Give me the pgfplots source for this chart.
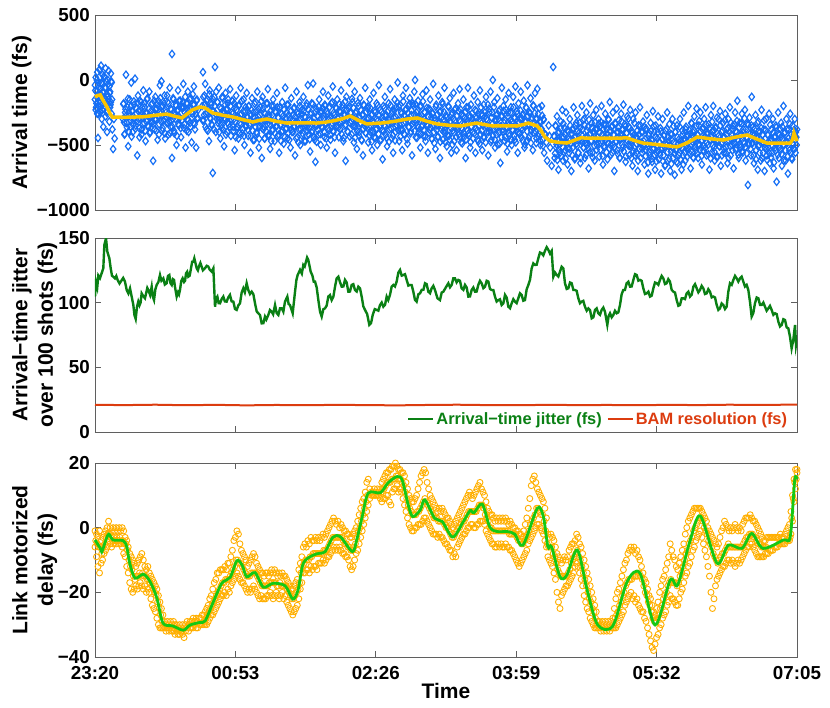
\documentclass[border=0pt]{standalone}
\usepackage{fontspec}
\setmainfont{Liberation Sans}
\usepackage{pgfplots}
\pgfplotsset{compat=1.18}
\definecolor{ablue}{RGB}{20,110,245}
\definecolor{ayellow}{RGB}{250,195,0}
\definecolor{aorange}{RGB}{255,175,0}
\definecolor{lgreen}{RGB}{20,200,20}
\definecolor{dgreen}{RGB}{10,128,20}
\definecolor{bred}{RGB}{220,60,15}
\definecolor{axgray}{RGB}{95,95,95}
\pgfplotsset{
  panel/.style={
    scale only axis, width=702pt, height=194pt,
    xmin=0, xmax=930, xtick={0,186,372,558,744,930},
    tick align=inside, major tick length=6pt,
    axis line style={draw=axgray, line width=0.8pt},
    every tick/.style={draw=axgray, line width=0.8pt},
    clip marker paths=true,
    /pgf/number format/assume math mode=true,
    ticklabel style={font=\fontsize{18.8}{20}\selectfont\bfseries, inner sep=0pt},
    xticklabel style={yshift=-9pt},
    yticklabel style={xshift=-5pt},
    ylabel style={font=\fontsize{21}{25.5}\selectfont\bfseries, inner sep=0pt, align=center, anchor=south},
    xlabel style={font=\fontsize{21}{25}\selectfont\bfseries, inner sep=0pt, anchor=north},
  },
  bluediam/.style={only marks, mark=diamond, mark size=3.7pt, mark options={draw=ablue, fill=none, line width=1.2pt}},
  orcirc/.style={only marks, mark=o, mark size=3pt, mark options={draw=aorange, line width=0.9pt}},
}
\begin{document}
\begin{tikzpicture}
\path[use as bounding box] (0pt,0pt) rectangle (830pt,-708pt);
% ---------------- Panel 1 ----------------
\begin{axis}[panel, at={(95pt,-210pt)}, anchor=south west, height=195pt,
  ymin=-1000, ymax=500, ytick={-1000,-500,0,500}, yticklabels={−1000,−500,0,500},
  xticklabels={}, clip=false,
  ylabel={Arrival time (fs)}, ylabel style={at={(axis description cs:-0.0902,0.5)}}]
\addplot[bluediam] coordinates {
(0,-150)(0,-40)(1,-230)(1,20)(2,-90)(2,-180)(3,60)(3,-260)(4,-446)(4,-120)(5,-20)(5,-200)(6,-160)(6,80)(7,-70)(7,-250)(8,110)(8,-130)(9,-300)(9,-30)
(10,-190)(10,40)(11,-100)(11,-360)(12,30)(12,-220)(13,-140)(13,-60)(14,90)(14,-280)(15,-180)(15,-10)(16,-400)(16,-110)(17,0)(17,-240)(18,-150)(18,70)(19,-50)(19,-320)
(20,-210)(20,-90)(21,50)(21,-170)(22,-260)(22,-20)(23,-380)(24,-531)(25,-300)(26,-450)
(37,-300)(38,-180)(39,-420)(40,-250)(41,40)(42,-330)(43,-210)(44,-510)(45,-280)(46,-150)(47,-360)(48,-20)(49,-240)(50,-400)(51,-310)(52,-190)(53,10)(54,-350)(55,-260)(56,-580)(57,-120)(58,-300)(59,-440)
(60,-230)(61,-170)(62,-380)(63,-290)(64,-80)(65,-330)(66,-210)(67,-470)(68,-260)(69,-150)(70,-350)(71,-280)(72,-90)(73,-400)(74,-240)(75,-320)(76,-180)(77,-622)(78,-270)(79,-380)
(80,-130)(81,-300)(82,-220)(83,-460)(84,-160)(85,-340)(86,-40)(87,-260)(88,-10)(89,-390)(90,-200)(91,-310)(92,-120)(93,-450)(94,-250)(95,-330)(96,-170)(97,-420)(98,-280)(99,-60)
(100,-360)(101,-230)(102,200)(102,-600)(103,-300)(104,-150)(105,-410)(106,-270)(107,-190)(108,-500)(109,-240)(110,-80)(111,-350)(112,-290)(113,-160)(114,-440)(115,-310)(116,-210)(117,-30)(118,-370)(119,-250)
(120,-520)(121,-180)(122,-300)(123,-90)(124,-400)(125,-220)(126,-330)(127,-140)(128,-480)(129,-260)(130,-190)(131,-50)(132,-340)(133,-230)(134,-520)(135,-150)(136,-290)
(142,-200)(143,60)(144,-310)(145,-120)(146,-30)(147,-260)(148,-380)(149,-150)(150,-230)(151,-470)(152,-80)(153,-300)(154,-190)(155,-350)(156,-715)(157,-240)(158,-130)(159,100)
(160,-400)(161,-270)(162,-170)(163,-330)(164,-60)(165,-290)(166,-450)(167,-220)(168,-370)(169,-140)(170,-260)(171,-510)(172,-310)(173,-100)(174,-230)(175,-400)(176,-180)(177,-340)(178,-270)(179,-70)
(180,-430)(181,-250)(182,-160)(183,-360)(184,-300)(185,-540)(186,-210)(187,-120)(188,-380)(189,-280)(190,-450)(191,-190)(192,-330)(193,-60)(194,-260)(195,-410)(196,-310)(197,-150)(198,-500)(199,-240)
(200,-360)(201,-100)(202,-290)(203,-430)(204,-200)(205,-350)(206,-560)(207,-270)(208,-140)(209,-390)(210,-250)(211,-460)(212,-320)(213,-170)(214,-400)(215,-90)(216,-280)(217,-520)(218,-360)(219,-210)
(220,-310)(221,-600)(222,-130)(223,-380)(224,-250)(225,-450)(226,-300)(227,-180)(228,-340)(229,-70)(230,-420)(231,-270)(232,-530)(233,-310)(234,-200)(235,-390)(236,-150)(237,-330)(238,-470)(239,-240)
(240,-360)(241,-100)(242,-430)(243,-290)(244,-560)(245,-210)(246,-340)(247,-400)(248,-170)(249,-280)(250,-490)(251,-330)(252,-60)(253,-380)(254,-250)(255,-450)(256,-190)(257,-350)(258,-300)(259,-520)
(260,-140)(261,-400)(262,-270)(263,-360)(264,-210)(265,-580)(266,-320)(267,-90)(268,-440)(269,-260)(270,-380)(271,-170)(272,-500)(273,-300)(274,-230)(275,-410)(276,-130)(277,-350)(278,-280)(279,-470)
(280,-200)(281,-360)(282,-40)(283,-420)(284,-310)(285,-550)(286,-250)(287,-180)(288,-390)(289,-27)(290,-330)(291,-460)(292,-630)(293,-220)(294,-350)(295,-280)(296,-420)(297,-150)(298,-310)(299,-500)
(300,-240)(301,-370)(302,-90)(303,-300)(304,-440)(305,-200)(306,-340)(307,-520)(308,-260)(309,-120)(310,-390)(311,-290)(312,-460)(313,-180)(314,-330)(315,-50)(316,-400)(317,-270)(318,-560)(319,-210)
(320,-350)(321,-150)(322,-300)(323,-440)(324,-240)(325,-380)(326,-80)(327,-320)(328,-190)(329,-470)(330,-260)(331,-350)(332,-622)(333,-130)(334,-290)(335,-400)(336,-220)(337,-20)(338,-330)(339,-250)
(340,-420)(341,-170)(342,-300)(343,-480)(344,-90)(345,-360)(346,-240)(347,-530)(348,-310)(349,-200)(350,-400)(351,-140)(352,-330)(353,-460)(354,-270)(355,-580)(356,-190)(357,-350)(358,-60)(359,-410)
(360,-300)(361,-220)(362,-480)(363,-360)(364,-150)(365,-400)(366,-270)(367,-540)(368,-320)(369,-100)(370,-440)(371,-250)(372,-380)(373,-180)(374,-500)(375,-310)(376,-40)(377,-360)(378,-230)(379,-460)
(380,-290)(381,-610)(382,-200)(383,-350)(384,-130)(385,-420)(386,-270)(387,-510)(388,-300)(389,-180)(390,-380)(391,-70)(392,-330)(393,-450)(394,-240)(395,-560)(396,-290)(397,-150)(398,-400)(399,-210)
(400,-350)(401,-20)(402,-310)(403,-470)(404,-190)(405,-380)(406,-260)(407,-540)(408,-120)(409,-330)(410,-420)(411,-230)(412,-60)(413,-300)(414,-490)(415,-200)(416,-360)(417,-140)(418,-410)(419,-270)
(420,-580)(421,-180)(422,-320)(423,-90)(424,0)(425,-440)(426,-250)(427,-350)(428,-160)(429,-400)(430,-280)(431,-520)(432,-200)(433,-360)(434,-110)(435,-430)(436,-300)(437,-250)(438,-470)(439,-80)
(440,-340)(441,-560)(442,-220)(443,-380)(444,-150)(445,-310)(446,-450)(447,-260)(448,-30)(449,-400)(450,-290)(451,-530)(452,-190)(453,-350)(454,-440)(455,-120)(456,-320)(457,-600)(458,-240)(459,-380)
(460,-170)(461,-460)(462,-300)(463,-60)(464,-410)(465,-270)(466,-510)(467,-350)(468,-200)(469,-430)(470,-140)(471,-330)(472,-560)(473,-250)(474,-390)(475,-100)(476,-470)(477,-310)(478,-220)(479,-540)
(480,-360)(481,-180)(482,-420)(483,-70)(484,-320)(485,-480)(486,-260)(487,-380)(488,-150)(489,-440)(490,-290)(491,-600)(492,-210)(493,-340)(494,-60)(495,-410)(496,-270)(497,-520)(498,-190)(499,-360)
(500,-300)(501,-450)(502,-120)(503,-330)(504,-560)(505,-240)(506,-390)(507,-170)(508,-470)(509,-300)(510,-80)(511,-420)(512,-260)(513,-540)(514,-350)(515,-190)(516,-440)(517,-280)(518,-130)(519,-400)
(520,-310)(521,-580)(522,-220)(523,-360)(524,-90)(525,-460)(526,-250)(527,0)(528,-380)(529,-170)(530,-520)(531,-300)(532,-420)(533,-140)(534,-350)(535,-240)(536,-490)(537,-638)(538,-280)(539,-60)
(540,-400)(541,-200)(542,-330)(543,-470)(544,-150)(545,-360)(546,-550)(547,-250)(548,-100)(549,-430)(550,-310)(551,-210)(552,-500)(553,-380)(554,-130)(555,-290)(556,-460)(557,-50)(558,-350)(559,-240)
(560,-560)(561,-180)(562,-410)(563,-300)(564,-90)(565,-440)(566,-270)(567,-380)(568,-160)(569,-520)(570,-320)(571,-210)(572,-470)(573,-40)(574,-340)(575,-250)(576,-430)(577,-140)(578,-390)(579,-290)
(580,-540)(581,-200)(582,-360)(583,-100)(584,-300)(585,-450)(586,-68)(587,-260)(588,-410)(589,-320)(590,-500)(591,-380)(592,-200)(593,-460)(594,-300)(595,-560)(597,-420)(599,-620)(601,-350)(603,-520)(605,-660)(607,100)
(608,-430)(609,-600)(610,-350)(611,-520)(612,-280)(613,-470)(614,-690)(615,-400)(616,-560)(617,-320)(618,-480)(619,-230)(620,-620)(621,-440)(622,-370)(623,-540)(624,-250)(625,-480)(626,-650)(627,-400)
(628,-560)(629,-300)(630,-460)(631,-700)(632,-380)(633,-520)(634,-210)(635,-440)(636,-600)(637,-350)(638,-490)(639,-270)(640,-560)(641,-410)(642,-330)(643,-640)(644,-460)(645,-200)(646,-380)(647,-520)
(648,-300)(649,-600)(650,-440)(651,-250)(652,-500)(653,-360)(654,-680)(655,-420)(656,-180)(657,-470)(658,-330)(659,-560)(660,-270)(661,-410)(662,-620)(663,-380)(664,-230)(665,-500)(666,-440)(667,-300)
(668,-590)(669,-360)(670,-480)(671,-200)(672,-420)(673,-650)(674,-340)(675,-520)(676,-260)(677,-460)(678,-380)(679,-610)(680,-300)(681,-440)(682,-170)(683,-500)(684,-360)(685,-560)(686,-250)(687,-420)
(688,-700)(689,-330)(690,-470)(691,-220)(692,-540)(693,-400)(694,-310)(695,-600)(696,-450)(697,-260)(698,-380)(699,-520)(700,-190)(701,-440)(702,-340)(703,-630)(704,-410)(705,-280)(706,-500)(707,-360)
(708,-580)(709,-230)(710,-470)(711,-390)(712,-660)(713,-300)(714,-520)(715,-420)(716,-250)(717,-560)(718,-440)(719,-700)(720,-350)(721,-480)(722,-210)(723,-600)(724,-400)(725,-530)(726,-320)(727,-470)
(728,-650)(729,-380)(730,-540)(731,-270)(732,-490)(733,-720)(734,-410)(735,-580)(736,-330)(737,-460)(738,-630)(739,-240)(740,-520)(741,-400)(742,-690)(743,-350)(744,-560)(745,-450)(746,-280)(747,-610)
(748,-480)(749,-370)(750,-720)(751,-520)(752,-300)(753,-580)(754,-430)(755,-660)(756,-390)(757,-500)(758,-250)(759,-620)(760,-470)(761,-340)(762,-700)(763,-550)(764,-420)(765,-300)(766,-600)(767,-480)
(768,-730)(769,-400)(770,-530)(771,-350)(772,-640)(773,-460)(774,-560)(775,-300)(776,-500)(777,-690)(778,-390)(779,-580)(780,-250)(781,-470)(782,-620)(783,-360)(784,-530)(785,-420)(786,-200)(787,-560)
(788,-450)(789,-680)(790,-330)(791,-500)(792,-400)(793,-600)(794,-280)(795,-460)(796,-540)(797,-220)(798,-420)(799,-600)(800,-350)(801,-500)(802,-250)(803,-470)(804,-650)(805,-380)(806,-540)(807,-300)
(808,-440)(809,-210)(810,-580)(811,-420)(812,-500)(813,-340)(814,-690)(815,-460)(816,-270)(817,-560)(818,-400)(819,-200)(820,-520)(821,-620)(822,-370)(823,-470)(824,-290)(825,-590)(826,-430)(827,-510)
(828,-240)(829,-660)(830,-400)(831,-480)(832,-330)(833,-560)(834,-440)(835,-260)(836,-520)(837,-380)(838,-640)(839,-300)(840,-470)(841,-210)(842,-580)(843,-420)(844,-500)(845,-350)(846,-680)(847,-450)
(848,-250)(849,-540)(850,-400)(851,-160)(852,-470)(853,-600)(854,-330)(855,-520)(856,-420)(857,-260)(858,-560)(859,-380)(860,-490)(861,-230)(862,-620)(863,-440)(864,-340)(865,-808)(866,-500)(867,-290)
(868,-410)(869,-580)(870,-130)(871,-480)(872,-360)(873,-640)(874,-420)(875,-270)(876,-540)(877,-450)(878,-690)(879,-320)(880,-500)(881,-400)(882,-620)(883,-230)(884,-480)(885,-560)(886,-380)(887,-700)
(888,-450)(889,-300)(890,-580)(891,-420)(892,-520)(893,-260)(894,-640)(895,-470)(896,-380)(897,-560)(898,-300)(899,-680)(900,-440)(901,-520)(902,-350)(903,-783)(904,-480)(905,-250)(906,-600)(907,-420)
(908,-540)(909,-330)(910,-660)(911,-460)(912,-200)(913,-500)(914,-400)(915,-620)(916,-300)(917,-480)(918,-720)(919,-380)(920,-540)(921,-260)(922,-460)(923,-600)(924,-350)(925,-500)(926,-420)(927,-300)
(928,-560)(929,-440)(930,-380)
};
\addplot[bluediam] coordinates {
(0.5,-80)(1.5,-210)(2.5,0)(3.5,-140)(4.5,-260)(5.5,-50)(6.5,-180)(7.5,-110)(8.5,-20)(9.5,-230)(10.5,-90)(11.5,-160)(12.5,20)(13.5,-200)(14.5,-60)(15.5,-250)(16.5,-130)(17.5,-30)(18.5,-170)(19.5,-100)(20.5,-190)(21.5,-10)(22.5,-150)
(37.5,-185)(38.5,-325)(39.5,-415)(40.5,-225)(41.5,-275)(42.5,-365)(43.5,-145)(44.5,-395)(45.5,-255)(46.5,-305)(47.5,-205)(48.5,-435)(49.5,-235)(50.5,-345)(51.5,-165)(52.5,-295)(53.5,-375)(54.5,-215)(55.5,-315)(56.5,-175)
(57.5,-240)(58.5,-370)(59.5,-160)(60.5,-300)(61.5,-420)(62.5,-210)(63.5,-340)(64.5,-270)(65.5,-180)(66.5,-390)(67.5,-250)(68.5,-320)(69.5,-140)(70.5,-360)(71.5,-220)(72.5,-410)(73.5,-290)(74.5,-190)(75.5,-330)(76.5,-260)
(77.5,-340)(78.5,-160)(79.5,-300)(80.5,-220)(81.5,-390)(82.5,-190)(83.5,-280)(84.5,-420)(85.5,-250)(86.5,-140)(87.5,-320)(88.5,-200)(89.5,-370)(90.5,-270)(91.5,-180)(92.5,-410)(93.5,-230)(94.5,-290)(95.5,-120)(96.5,-330)
(97.5,-180)(98.5,-320)(99.5,-410)(100.5,-220)(101.5,-270)(102.5,-360)(103.5,-140)(104.5,-390)(105.5,-250)(106.5,-300)(107.5,-200)(108.5,-430)(109.5,-230)(110.5,-340)(111.5,-160)(112.5,-290)(113.5,-370)(114.5,-210)(115.5,-310)(116.5,-170)
(117.5,-210)(118.5,-340)(119.5,-130)(120.5,-270)(121.5,-390)(122.5,-180)(123.5,-310)(124.5,-240)(125.5,-150)(126.5,-360)(127.5,-220)(128.5,-290)(129.5,-110)(130.5,-330)(131.5,-190)(132.5,-380)(133.5,-260)(134.5,-160)(135.5,-300)(136.5,-230)
(142.5,-310)(143.5,-130)(144.5,-270)(145.5,-190)(146.5,-360)(147.5,-160)(148.5,-250)(149.5,-390)(150.5,-220)(151.5,-110)(152.5,-290)(153.5,-170)(154.5,-340)(155.5,-240)(156.5,-150)(157.5,-380)(158.5,-200)(159.5,-260)(160.5,-90)(161.5,-300)
(162.5,-170)(163.5,-310)(164.5,-400)(165.5,-210)(166.5,-260)(167.5,-350)(168.5,-130)(169.5,-380)(170.5,-240)(171.5,-290)(172.5,-190)(173.5,-420)(174.5,-220)(175.5,-330)(176.5,-150)(177.5,-280)(178.5,-360)(179.5,-200)(180.5,-300)(181.5,-160)
(182.5,-260)(183.5,-390)(184.5,-180)(185.5,-320)(186.5,-440)(187.5,-230)(188.5,-360)(189.5,-290)(190.5,-200)(191.5,-410)(192.5,-270)(193.5,-340)(194.5,-160)(195.5,-380)(196.5,-240)(197.5,-430)(198.5,-310)(199.5,-210)(200.5,-350)(201.5,-280)
(202.5,-382)(203.5,-202)(204.5,-342)(205.5,-262)(206.5,-432)(207.5,-232)(208.5,-322)(209.5,-462)(210.5,-292)(211.5,-182)(212.5,-362)(213.5,-242)(214.5,-412)(215.5,-312)(216.5,-222)(217.5,-452)(218.5,-272)(219.5,-332)(220.5,-162)(221.5,-372)
(222.5,-220)(223.5,-360)(224.5,-450)(225.5,-260)(226.5,-310)(227.5,-400)(228.5,-180)(229.5,-430)(230.5,-290)(231.5,-340)(232.5,-240)(233.5,-470)(234.5,-270)(235.5,-380)(236.5,-200)(237.5,-330)(238.5,-410)(239.5,-250)(240.5,-350)(241.5,-210)
(242.5,-290)(243.5,-420)(244.5,-210)(245.5,-350)(246.5,-470)(247.5,-260)(248.5,-390)(249.5,-320)(250.5,-230)(251.5,-440)(252.5,-300)(253.5,-370)(254.5,-190)(255.5,-410)(256.5,-270)(257.5,-460)(258.5,-340)(259.5,-240)(260.5,-380)(261.5,-310)
(262.5,-400)(263.5,-220)(264.5,-360)(265.5,-280)(266.5,-450)(267.5,-250)(268.5,-340)(269.5,-480)(270.5,-310)(271.5,-200)(272.5,-380)(273.5,-260)(274.5,-430)(275.5,-330)(276.5,-240)(277.5,-470)(278.5,-290)(279.5,-350)(280.5,-180)(281.5,-390)
(282.5,-225)(283.5,-365)(284.5,-455)(285.5,-265)(286.5,-315)(287.5,-405)(288.5,-185)(289.5,-435)(290.5,-295)(291.5,-345)(292.5,-245)(293.5,-475)(294.5,-275)(295.5,-385)(296.5,-205)(297.5,-335)(298.5,-415)(299.5,-255)(300.5,-355)(301.5,-215)
(302.5,-270)(303.5,-400)(304.5,-190)(305.5,-330)(306.5,-450)(307.5,-240)(308.5,-370)(309.5,-300)(310.5,-210)(311.5,-420)(312.5,-280)(313.5,-350)(314.5,-170)(315.5,-390)(316.5,-250)(317.5,-440)(318.5,-320)(319.5,-220)(320.5,-360)(321.5,-290)
(322.5,-365)(323.5,-185)(324.5,-325)(325.5,-245)(326.5,-415)(327.5,-215)(328.5,-305)(329.5,-445)(330.5,-275)(331.5,-165)(332.5,-345)(333.5,-225)(334.5,-395)(335.5,-295)(336.5,-205)(337.5,-435)(338.5,-255)(339.5,-315)(340.5,-145)(341.5,-355)
(342.5,-215)(343.5,-355)(344.5,-445)(345.5,-255)(346.5,-305)(347.5,-395)(348.5,-175)(349.5,-425)(350.5,-285)(351.5,-335)(352.5,-235)(353.5,-465)(354.5,-265)(355.5,-375)(356.5,-195)(357.5,-325)(358.5,-405)(359.5,-245)(360.5,-345)(361.5,-205)
(362.5,-295)(363.5,-425)(364.5,-215)(365.5,-355)(366.5,-475)(367.5,-265)(368.5,-395)(369.5,-325)(370.5,-235)(371.5,-445)(372.5,-305)(373.5,-375)(374.5,-195)(375.5,-415)(376.5,-275)(377.5,-465)(378.5,-345)(379.5,-245)(380.5,-385)(381.5,-315)
(382.5,-395)(383.5,-215)(384.5,-355)(385.5,-275)(386.5,-445)(387.5,-245)(388.5,-335)(389.5,-475)(390.5,-305)(391.5,-195)(392.5,-375)(393.5,-255)(394.5,-425)(395.5,-325)(396.5,-235)(397.5,-465)(398.5,-285)(399.5,-345)(400.5,-175)(401.5,-385)
(402.5,-205)(403.5,-345)(404.5,-435)(405.5,-245)(406.5,-295)(407.5,-385)(408.5,-165)(409.5,-415)(410.5,-275)(411.5,-325)(412.5,-225)(413.5,-455)(414.5,-255)(415.5,-365)(416.5,-185)(417.5,-315)(418.5,-395)(419.5,-235)(420.5,-335)(421.5,-195)
(422.5,-265)(423.5,-395)(424.5,-185)(425.5,-325)(426.5,-445)(427.5,-235)(428.5,-365)(429.5,-295)(430.5,-205)(431.5,-415)(432.5,-275)(433.5,-345)(434.5,-165)(435.5,-385)(436.5,-245)(437.5,-435)(438.5,-315)(439.5,-215)(440.5,-355)(441.5,-285)
(442.5,-405)(443.5,-225)(444.5,-365)(445.5,-285)(446.5,-455)(447.5,-255)(448.5,-345)(449.5,-485)(450.5,-315)(451.5,-205)(452.5,-385)(453.5,-265)(454.5,-435)(455.5,-335)(456.5,-245)(457.5,-475)(458.5,-295)(459.5,-355)(460.5,-185)(461.5,-395)
(462.5,-248)(463.5,-388)(464.5,-478)(465.5,-288)(466.5,-338)(467.5,-428)(468.5,-208)(469.5,-458)(470.5,-318)(471.5,-368)(472.5,-268)(473.5,-498)(474.5,-298)(475.5,-408)(476.5,-228)(477.5,-358)(478.5,-438)(479.5,-278)(480.5,-378)(481.5,-238)
(482.5,-308)(483.5,-438)(484.5,-228)(485.5,-368)(486.5,-488)(487.5,-278)(488.5,-408)(489.5,-338)(490.5,-248)(491.5,-458)(492.5,-318)(493.5,-388)(494.5,-208)(495.5,-428)(496.5,-288)(497.5,-478)(498.5,-358)(499.5,-258)(500.5,-398)(501.5,-328)
(502.5,-410)(503.5,-230)(504.5,-370)(505.5,-290)(506.5,-460)(507.5,-260)(508.5,-350)(509.5,-490)(510.5,-320)(511.5,-210)(512.5,-390)(513.5,-270)(514.5,-440)(515.5,-340)(516.5,-250)(517.5,-480)(518.5,-300)(519.5,-360)(520.5,-190)(521.5,-400)
(522.5,-248)(523.5,-388)(524.5,-478)(525.5,-288)(526.5,-338)(527.5,-428)(528.5,-208)(529.5,-458)(530.5,-318)(531.5,-368)(532.5,-268)(533.5,-498)(534.5,-298)(535.5,-408)(536.5,-228)(537.5,-358)(538.5,-438)(539.5,-278)(540.5,-378)(541.5,-238)
(542.5,-310)(543.5,-440)(544.5,-230)(545.5,-370)(546.5,-490)(547.5,-280)(548.5,-410)(549.5,-340)(550.5,-250)(551.5,-460)(552.5,-320)(553.5,-390)(554.5,-210)(555.5,-430)(556.5,-290)(557.5,-480)(558.5,-360)(559.5,-260)(560.5,-400)(561.5,-330)
(562.5,-415)(563.5,-235)(564.5,-375)(565.5,-295)(566.5,-465)(567.5,-265)(568.5,-355)(569.5,-495)(570.5,-325)(571.5,-215)(572.5,-395)(573.5,-275)(574.5,-445)(575.5,-345)(576.5,-255)(577.5,-485)(578.5,-305)(579.5,-365)(580.5,-195)(581.5,-405)
(582.5,-255)(583.5,-395)(584.5,-485)(585.5,-295)(586.5,-345)(587.5,-435)(588.5,-215)(589.5,-465)(590.5,-325)(591.5,-375)(592.5,-275)(593.5,-505)(594.5,-305)(595.5,-415)(598,-480)(602,-430)
(608.5,-435)(609.5,-565)(610.5,-355)(611.5,-495)(612.5,-615)(613.5,-405)(614.5,-535)(615.5,-465)(616.5,-375)(617.5,-585)(618.5,-445)(619.5,-515)(620.5,-335)(621.5,-555)(622.5,-415)(623.5,-605)(624.5,-485)(625.5,-385)(626.5,-525)(627.5,-455)
(628.5,-530)(629.5,-350)(630.5,-490)(631.5,-410)(632.5,-580)(633.5,-380)(634.5,-470)(635.5,-610)(636.5,-440)(637.5,-330)(638.5,-510)(639.5,-390)(640.5,-560)(641.5,-460)(642.5,-370)(643.5,-600)(644.5,-420)(645.5,-480)(646.5,-310)(647.5,-520)
(648.5,-346)(649.5,-486)(650.5,-576)(651.5,-386)(652.5,-436)(653.5,-526)(654.5,-306)(655.5,-556)(656.5,-416)(657.5,-466)(658.5,-366)(659.5,-596)(660.5,-396)(661.5,-506)(662.5,-326)(663.5,-456)(664.5,-536)(665.5,-376)(666.5,-476)(667.5,-336)
(668.5,-406)(669.5,-536)(670.5,-326)(671.5,-466)(672.5,-586)(673.5,-376)(674.5,-506)(675.5,-436)(676.5,-346)(677.5,-556)(678.5,-416)(679.5,-486)(680.5,-306)(681.5,-526)(682.5,-386)(683.5,-576)(684.5,-456)(685.5,-356)(686.5,-496)(687.5,-426)
(688.5,-518)(689.5,-338)(690.5,-478)(691.5,-398)(692.5,-568)(693.5,-368)(694.5,-458)(695.5,-598)(696.5,-428)(697.5,-318)(698.5,-498)(699.5,-378)(700.5,-548)(701.5,-448)(702.5,-358)(703.5,-588)(704.5,-408)(705.5,-468)(706.5,-298)(707.5,-508)
(708.5,-370)(709.5,-510)(710.5,-600)(711.5,-410)(712.5,-460)(713.5,-550)(714.5,-330)(715.5,-580)(716.5,-440)(717.5,-490)(718.5,-390)(719.5,-620)(720.5,-420)(721.5,-530)(722.5,-350)(723.5,-480)(724.5,-560)(725.5,-400)(726.5,-500)(727.5,-360)
(728.5,-455)(729.5,-585)(730.5,-375)(731.5,-515)(732.5,-635)(733.5,-425)(734.5,-555)(735.5,-485)(736.5,-395)(737.5,-605)(738.5,-465)(739.5,-535)(740.5,-355)(741.5,-575)(742.5,-435)(743.5,-625)(744.5,-505)(745.5,-405)(746.5,-545)(747.5,-475)
(748.5,-575)(749.5,-395)(750.5,-535)(751.5,-455)(752.5,-625)(753.5,-425)(754.5,-515)(755.5,-655)(756.5,-485)(757.5,-375)(758.5,-555)(759.5,-435)(760.5,-605)(761.5,-505)(762.5,-415)(763.5,-645)(764.5,-465)(765.5,-525)(766.5,-355)(767.5,-565)
(768.5,-400)(769.5,-540)(770.5,-630)(771.5,-440)(772.5,-490)(773.5,-580)(774.5,-360)(775.5,-610)(776.5,-470)(777.5,-520)(778.5,-420)(779.5,-650)(780.5,-450)(781.5,-560)(782.5,-380)(783.5,-510)(784.5,-590)(785.5,-430)(786.5,-530)(787.5,-390)
(788.5,-415)(789.5,-545)(790.5,-335)(791.5,-475)(792.5,-595)(793.5,-385)(794.5,-515)(795.5,-445)(796.5,-355)(797.5,-565)(798.5,-425)(799.5,-495)(800.5,-315)(801.5,-535)(802.5,-395)(803.5,-585)(804.5,-465)(805.5,-365)(806.5,-505)(807.5,-435)
(808.5,-522)(809.5,-342)(810.5,-482)(811.5,-402)(812.5,-572)(813.5,-372)(814.5,-462)(815.5,-602)(816.5,-432)(817.5,-322)(818.5,-502)(819.5,-382)(820.5,-552)(821.5,-452)(822.5,-362)(823.5,-592)(824.5,-412)(825.5,-472)(826.5,-302)(827.5,-512)
(828.5,-350)(829.5,-490)(830.5,-580)(831.5,-390)(832.5,-440)(833.5,-530)(834.5,-310)(835.5,-560)(836.5,-420)(837.5,-470)(838.5,-370)(839.5,-600)(840.5,-400)(841.5,-510)(842.5,-330)(843.5,-460)(844.5,-540)(845.5,-380)(846.5,-480)(847.5,-340)
(848.5,-395)(849.5,-525)(850.5,-315)(851.5,-455)(852.5,-575)(853.5,-365)(854.5,-495)(855.5,-425)(856.5,-335)(857.5,-545)(858.5,-405)(859.5,-475)(860.5,-295)(861.5,-515)(862.5,-375)(863.5,-565)(864.5,-445)(865.5,-345)(866.5,-485)(867.5,-415)
(868.5,-530)(869.5,-350)(870.5,-490)(871.5,-410)(872.5,-580)(873.5,-380)(874.5,-470)(875.5,-610)(876.5,-440)(877.5,-330)(878.5,-510)(879.5,-390)(880.5,-560)(881.5,-460)(882.5,-370)(883.5,-600)(884.5,-420)(885.5,-480)(886.5,-310)(887.5,-520)
(888.5,-385)(889.5,-525)(890.5,-615)(891.5,-425)(892.5,-475)(893.5,-565)(894.5,-345)(895.5,-595)(896.5,-455)(897.5,-505)(898.5,-405)(899.5,-635)(900.5,-435)(901.5,-545)(902.5,-365)(903.5,-495)(904.5,-575)(905.5,-415)(906.5,-515)(907.5,-375)
(908.5,-440)(909.5,-570)(910.5,-360)(911.5,-500)(912.5,-620)(913.5,-410)(914.5,-540)(915.5,-470)(916.5,-380)(917.5,-590)(918.5,-450)(919.5,-520)(920.5,-340)(921.5,-560)(922.5,-420)(923.5,-610)(924.5,-490)(925.5,-390)(926.5,-530)(927.5,-460)(928.5,-400)(929.5,-500)
};
\addplot[ayellow, line width=3.5pt] coordinates {
(0,-131)(3,-120)(7,-115)(10,-150)(16,-208)(20,-260)(23,-285)(40,-287)(64,-283)(82,-270)(95,-262)(105,-278)(115,-292)(122,-262)(129,-230)(139,-208)(146,-215)(156,-254)(170,-272)(183,-285)
(196,-305)(209,-323)(218,-310)(228,-300)(240,-318)(254,-331)(270,-329)(294,-331)(305,-325)(315,-315)(328,-298)(338,-277)(349,-310)(360,-338)(372,-333)(382,-330)(400,-315)(414,-300)(427,-292)(440,-318)
(453,-338)(468,-348)(484,-354)(495,-342)(506,-331)(516,-343)(527,-354)(545,-352)(559,-354)(568,-342)(574,-331)(586,-354)(591,-390)(596,-438)(603,-469)(614,-480)(625,-485)(634,-466)(643,-446)(670,-447)
(705,-446)(716,-468)(726,-485)(750,-500)(771,-515)(784,-485)(798,-438)(815,-452)(832,-462)(848,-440)(864,-423)(877,-455)(890,-485)(905,-486)(921,-485)(924,-460)(926,-408)(928,-440)(930,-470)
};
\end{axis}
% ---------------- Panel 2 ----------------
\begin{axis}[panel, at={(95pt,-432pt)}, anchor=south west,
  ymin=0, ymax=150, ytick={0,50,100,150}, yticklabels={0,50,100,150},
  xticklabels={},
  ylabel={Arrival−time jitter\\over 100 shots (fs)}, ylabel style={at={(axis description cs:-0.0534,0.5)}},
  legend columns=2,
  legend style={draw=none, fill=none, at={(rel axis cs:0.989,0.022)}, anchor=south east, inner sep=0pt,
    font=\fontsize{16.4}{18}\selectfont\bfseries, /tikz/every even column/.append style={column sep=3pt}},
  legend image code/.code={\draw[#1] (0pt,0pt) -- (25pt,0pt);}]
\addplot[dgreen, line width=2.4pt] coordinates {
(0,104.7)(1.3,116)(3,112)(4.4,121)(6.6,119)(8.8,122.7)(11,126.6)(12.4,144.6)(14.6,149.8)(16.3,139.5)(19,134.3)(20.8,126.6)(22.5,120.8)(24.3,120)(26.5,118.8)(28.2,120.6)(30,117.5)(32.5,114.8)(35,117)(37.3,119.1)
(39.7,116.3)(42,109.8)(44.2,107.2)(46.4,111.1)(48.6,104.7)(50.8,98.2)(52.3,90.3)(53.9,87.4)(55.6,96.6)(57.4,100.8)(59,98)(60.4,100.1)(61.8,107.2)(64,105)(66.2,103.4)(68,108)(69.3,111.4)(70.7,109.8)(73,106)(75.1,112.4)
(76.6,104.7)(78.2,102)(80,110.4)(81.7,113.7)(84,116)(86.1,121.4)(88,117)(90.5,118.8)(92.5,114)(94.9,115)(96.7,120.7)(98.5,121.4)(100,115)(101.6,113.7)(103.2,118.2)(104.7,117.6)(106,112)(108.2,104.7)(110,108)(111.3,106.4)
(112.6,109.8)(114.3,116.8)(116.1,118.8)(118,116)(119.3,116.9)(120.6,122.7)(122.1,123.9)(123.6,120.1)(125.4,120.9)(127.2,126.6)(128.7,131.6)(130.3,131.7)(131.6,134.3)(134.7,126.6)(136.3,125)(138,128.5)(139.6,130.7)(141.3,127.9)(143,125)(145.7,126.6)
(148,128.5)(150.1,127.9)(152,125.5)(154.6,124)(156.8,126.6)(159,96.9)(160.5,103.3)(162.1,104.7)(163.8,99.6)(165.6,99.5)(168,103)(170,104.7)(172,101)(174.4,100.8)(176.5,104)(178.8,106)(181,101)(183.3,100.8)(185.5,95.1)(187.7,94.4)
(190,98)(192.1,99.5)(194.3,107.8)(196.5,111.1)(198.5,108)(200.9,115)(203.1,109.8)(205.3,106.7)(207.6,108.5)(209.8,106.5)(212,99.5)(214.2,93.2)(216.4,91.8)(218.6,90.4)(220.8,84)(223,84.1)(225.2,89.2)(227,87)(229.6,90.5)(231.8,94.3)
(234,93)(236,91)(238.5,98.2)(240.7,91.9)(242.9,90.5)(245.1,95.6)(247.3,95.6)(249.5,93)(251.7,100.8)(254.8,104.7)(256.5,99)(258.3,98.2)(261.9,91.8)(265,108.5)(266.8,117.5)(268.5,121.4)(271.6,125.3)(274,122.5)(276,129.2)(277.8,128)
(279.5,131.7)(281,134.9)(282.6,133)(285.7,124)(288,121)(289.8,116.2)(291.5,116.3)(293.7,111.7)(295.9,102)(298.1,93.1)(300.3,89.2)(302.5,94.9)(304.7,95.6)(306.9,97.7)(309.1,104.7)(311.3,105.9)(313.5,102)(315.8,104.7)(318,112.4)(320.2,118.8)
(322.4,120.1)(324.5,116)(326.8,112.4)(329,112.5)(331.2,117.6)(333.4,115.6)(335.6,108.5)(337.8,108.6)(340,113.7)(342.2,114.3)(344.4,109.8)(346.7,108.6)(348.9,112.4)(351.1,111.1)(353.3,104.7)(355.5,97.1)(357.7,94.4)(360.6,91.1)(363.4,82.8)(365.7,84.2)
(367.9,90.5)(370.6,95)(373.2,94.4)(375.4,93.8)(377.6,98.2)(379.8,100.1)(382,96.9)(384.2,98.3)(386.4,104.7)(388.5,102)(390.8,106)(393,112.4)(395.2,113.7)(397.4,112.5)(399.6,116.3)(401.9,123.3)(404.1,125.3)(406.3,120.9)(408.5,121.4)(410.7,122)
(412.9,117.6)(415.1,113.2)(417.3,113.7)(419.5,113.6)(421.7,108.5)(423.9,102.2)(426.1,100.8)(428.4,106.5)(430.6,107.2)(433,110)(435.1,110)(437.2,115)(439.4,114.3)(441.6,108.5)(443.8,107.3)(446,111.1)(448.2,113)(450.4,109.8)(453.7,103.4)(457,102)
(459.3,107.8)(461.5,108.5)(465,112)(468.1,115)(470.3,111.9)(472.5,113.7)(474.7,118.8)(476.9,118.8)(479.1,115.7)(481.3,117.6)(483.5,116.9)(485.7,111.1)(488,109.9)(490.2,113.7)(492.4,111.7)(494.6,104.7)(496.8,104.8)(499,109.8)(501.2,111.7)(503.4,108.5)
(505.6,108.6)(507.8,113.7)(510,116.9)(512.2,115)(514.5,111.2)(516.7,112.4)(518.9,116.9)(521.1,116.3)(523.3,110.6)(525.5,109.8)(527.7,109.8)(529.9,104.7)(532.1,100.9)(534.3,102)(536.5,102.6)(538.7,98.2)(541,99.6)(543.2,106)(545.4,103.9)(547.6,96.9)
(549.8,95.7)(552,99.5)(554.2,102.7)(556.4,100.8)(558.6,99.6)(560.8,103.4)(563,107.2)(565.2,106)(567.4,101.5)(569.6,102)(571.9,110.4)(574.1,113.7)(576.3,117.7)(578.5,126.6)(580.7,130.4)(582.9,129.2)(585.1,129.3)(587.3,134.3)(589.5,138.8)(591.7,138.2)
(593.9,136.6)(596.1,140)(598.4,142.9)(600.6,140.8)(602.8,137.9)(605,140)(607.2,120.1)(609.4,123.3)(611.6,121.4)(613.8,120.2)(616,124)(618.2,127.8)(620.4,126.6)(622.6,115)(624.9,110.6)(627.1,111.1)(629.3,115.6)(631.5,115)(633.7,109.9)(635.9,109.8)
(638.1,109.1)(640.3,103.4)(642.5,99.6)(644.7,100.8)(646.9,101.4)(649.1,96.9)(651.4,93.8)(653.6,95.6)(655.8,94.3)(658,87.9)(660.2,88.7)(662.4,94.4)(664.6,95.6)(666.8,91.8)(669,90.6)(671.2,94.4)(673.4,96.2)(675.6,93)(678.7,82.8)(680.5,89.8)
(682.3,91.8)(684.5,88.7)(686.7,90.5)(688.9,93.7)(691.1,91.8)(693.3,92.5)(695.5,98.2)(697.7,106.5)(699.9,109.8)(702.1,109.9)(704.3,115)(706.6,116.2)(708.8,112.4)(711,112.5)(713.2,117.6)(715.4,122)(717.6,121.4)(719.8,117)(722,117.6)(724.2,116.9)
(726.4,111.1)(728.6,106.7)(730.8,107.2)(733.1,108.5)(735.3,104.7)(737.5,105.4)(739.7,111.1)(741.9,115.6)(744.1,115)(746.3,113.8)(748.5,117.6)(750.7,120.7)(752.9,118.8)(755.1,114.4)(757.3,115)(759.5,118.2)(761.7,116.3)(764,109.9)(766.2,108.5)(768.4,107.8)
(770.6,102)(772.8,97.6)(775,98.2)(777.2,103.3)(779.4,103.4)(781.6,102.8)(783.8,107.2)(786,108.5)(788.2,104.7)(790.5,106.1)(792.7,112.4)(794.9,114.3)(797.1,111.1)(799.3,108)(801.5,109.8)(803.7,113)(805.9,111.1)(808.1,106.7)(810.3,107.2)(812.5,110.4)
(814.7,108.5)(817,104.1)(819.2,104.7)(821.4,104)(823.6,98.2)(825.8,94.4)(828,95.6)(830.2,99.4)(832.4,98.2)(834.6,95.1)(836.8,96.9)(839,108.5)(841.2,115)(843.5,113.8)(845.7,117.6)(847.9,120.7)(850.1,118.8)(852.3,116.3)(854.5,118.8)(856.7,120.1)
(858.9,116.3)(861.1,112.5)(863.3,113.7)(865.5,109.8)(867.7,100.8)(869.9,89.2)(872.1,91.9)(874.3,99.5)(876.6,104)(878.8,103.4)(881,98.3)(883.2,98.2)(885.4,100.1)(887.6,96.9)(889.8,93.8)(892,95.6)(894.2,97.5)(896.4,94.4)(898.7,90.6)(900.9,91.8)
(903.1,91.1)(905.3,85.3)(907.5,81.6)(909.7,82.8)(911.9,87.2)(914.1,86.6)(916.3,80.9)(918.5,80.2)(920.7,73.7)(922.9,64.7)(925.1,71.2)(927.4,82.8)(928.7,67.3)(930,72)
};
\addlegendentry{\textcolor{dgreen}{Arrival−time jitter (fs)}}
\addplot[bred, line width=2pt] coordinates {
(0,21)(40,20.8)(80,21.1)(120,20.7)(160,21)(200,20.6)(240,20.9)(280,20.7)(320,21)(360,20.8)(400,20.6)(440,20.9)(480,21.1)(520,20.8)(560,20.7)(600,21)(640,20.8)(680,20.9)(720,20.7)(760,21)(800,20.8)(840,21.1)(880,20.9)(930,21.2)
};
\addlegendentry{\textcolor{bred}{BAM resolution (fs)}}
\end{axis}
% ---------------- Panel 3 ----------------
\begin{axis}[panel, at={(95pt,-657pt)}, anchor=south west,
  ymin=-40, ymax=20, ytick={-40,-20,0,20}, yticklabels={−40,−20,0,20},
  xticklabels={23:20,00:53,02:26,03:59,05:32,07:05}, clip=false,
  xlabel={Time}, xlabel style={at={(axis description cs:0.5,-0.134)}},
  ylabel={Link motorized\\delay (fs)}, ylabel style={at={(axis description cs:-0.0534,0.5)}}]
\addplot[orcirc] coordinates {
(0,-1)(0,-6)(2,-2)(2,-9)(4,-3)(4,-12)(6,-1)(6,-14)(8,-4)(8,-11)(10,-3)(10,-10)(12,-2)(12,-8)(14,-1)(14,-7)(16,0)(16,-6)(18,2)(18,-4)
(20,0)(20,-5)(22,-1)(22,-6)(24,0)(24,-5)(26,-1)(26,-4)(28,0)(28,-5)(30,-1)(30,-4)(32,0)(32,-5)(34,-1)(34,-5)(36,0)(36,-6)(38,-1)(38,-8)
(40,-3)(40,-9)(42,-4)(42,-12)(44,-6)(44,-14)(46,-8)(46,-17)(48,-9)(48,-19)(50,-10)(50,-20)(52,-11)(52,-19)(54,-12)(54,-18)(56,-11)(56,-19)(58,-10)(58,-18)
(60,-9)(60,-17)(62,-8)(62,-18)(64,-10)(64,-19)(66,-12)(66,-18)(68,-13)(68,-20)(70,-12)(70,-19)(72,-14)(72,-20)(74,-15)(74,-22)(76,-16)(76,-24)(78,-17)(78,-25)
(80,-18)(80,-26)(82,-19)(82,-28)(84,-21)(84,-30)(86,-23)(86,-31)(88,-25)(88,-31)(90,-27)(90,-31)(92,-29)(92,-31)(94,-30)(94,-32)(96,-29)(96,-31)(98,-30)(98,-32)
(100,-29)(100,-31)(102,-30)(102,-32)(104,-29)(104,-32)(106,-30)(106,-33)(108,-30)(108,-32)(110,-31)(110,-33)(112,-30)(112,-33)(114,-31)(114,-32)(116,-30)(116,-33)(118,-31)(118,-34)
(120,-30)(120,-32)(122,-29)(122,-31)(124,-30)(124,-32)(126,-29)(126,-31)(128,-29)(128,-31)(130,-28)(130,-31)(132,-29)(132,-30)(134,-28)(134,-31)(136,-29)(136,-31)(138,-28)(138,-30)
(140,-28)(140,-30)(142,-27)(142,-30)(144,-27)(144,-30)(146,-26)(146,-30)(148,-25)(148,-30)(150,-24)(150,-29)(152,-22)(152,-28)(154,-21)(154,-27)(156,-19)(156,-27)(158,-17)(158,-26)
(160,-16)(160,-25)(162,-14)(162,-24)(164,-14)(164,-23)(166,-13)(166,-22)(168,-13)(168,-21)(170,-13)(170,-21)(172,-12)(172,-20)(174,-13)(174,-21)(176,-11)(176,-19)(178,-11)(178,-20)
(180,-9)(180,-18)(182,-7)(182,-17)(184,-4)(184,-16)(186,-3)(186,-15)(188,-1)(188,-14)(190,-2)(190,-15)(192,-5)(192,-16)(194,-7)(194,-17)(196,-8)(196,-17)(198,-9)(198,-18)
(200,-10)(200,-19)(202,-12)(202,-20)(204,-11)(204,-19)(206,-10)(206,-20)(208,-9)(208,-19)(210,-8)(210,-18)(212,-9)(212,-19)(214,-11)(214,-20)(216,-12)(216,-21)(218,-13)(218,-22)
(220,-14)(220,-21)(222,-14)(222,-22)(224,-15)(224,-22)(226,-14)(226,-22)(228,-14)(228,-21)(230,-15)(230,-21)(232,-14)(232,-20)(234,-13)(234,-21)(236,-14)(236,-22)(238,-13)(238,-21)
(240,-14)(240,-20)(242,-15)(242,-21)(244,-14)(244,-22)(246,-15)(246,-21)(248,-14)(248,-20)(250,-15)(250,-22)(252,-15)(252,-21)(254,-16)(254,-23)(256,-17)(256,-24)(258,-18)(258,-25)
(260,-19)(260,-26)(262,-19)(262,-27)(264,-18)(264,-26)(266,-17)(266,-25)(268,-16)(268,-24)(270,-13)(270,-22)(272,-11)(272,-19)(274,-9)(274,-17)(276,-6)(276,-14)(278,-5)(278,-14)
(280,-6)(280,-13)(282,-4)(282,-13)(284,-5)(284,-14)(286,-3)(286,-12)(288,-4)(288,-13)(290,-4)(290,-12)(292,-3)(292,-12)(294,-4)(294,-13)(296,-3)(296,-11)(298,-4)(298,-11)
(300,-3)(300,-11)(302,-2)(302,-10)(304,-3)(304,-11)(306,-2)(306,-10)(308,-1)(308,-9)(310,0)(310,-9)(312,1)(312,-8)(314,2)(314,-7)(316,3)(316,-6)(318,2)(318,-7)
(320,1)(320,-6)(322,2)(322,-7)(324,0)(324,-6)(326,1)(326,-7)(328,0)(328,-8)(330,-1)(330,-8)(332,-1)(332,-9)(334,-2)(334,-9)(336,-2)(336,-10)(338,-3)(338,-12)
(340,-3)(340,-13)(342,-2)(342,-12)(344,-1)(344,-10)(346,0)(346,-8)(348,2)(348,-7)(350,4)(350,-5)(352,6)(352,-3)(354,8)(354,-1)(356,9)(356,1)(358,11)(358,3)
(360,14)(360,5)(362,15)(362,7)(364,12)(364,9)(366,11)(366,10)(368,11)(368,10)(370,12)(370,10)(372,11)(372,10)(374,12)(374,10)(376,11)(376,10)(378,12)(378,9)
(380,14)(380,8)(382,15)(382,9)(384,16)(384,9)(386,17)(386,10)(388,17)(388,10)(390,18)(390,8)(392,18)(392,7)(394,19)(394,11)(396,19)(396,12)(398,20)(398,12)
(400,19)(400,13)(402,18)(402,11)(404,18)(404,12)(406,17)(406,11)(408,17)(408,9)(410,16)(410,7)(412,14)(412,5)(414,12)(414,3)(416,10)(416,1)(418,9)(418,0)
(420,8)(420,-1)(422,8)(422,-1)(424,9)(424,0)(426,10)(426,0)(428,12)(428,1)(430,14)(430,1)(432,16)(432,1)(434,17)(434,2)(436,18)(436,3)(438,17)(438,3)
(440,14)(440,2)(442,12)(442,1)(444,10)(444,0)(446,9)(446,-1)(448,8)(448,-2)(450,7)(450,-2)(452,6)(452,-2)(454,5)(454,-3)(456,6)(456,-2)(458,5)(458,-3)
(460,6)(460,-3)(462,5)(462,-4)(464,4)(464,-5)(466,3)(466,-5)(468,3)(468,-6)(470,2)(470,-7)(472,1)(472,-7)(474,0)(474,-9)(476,1)(476,-8)(478,2)(478,-9)
(480,3)(480,-6)(482,4)(482,-5)(484,5)(484,-4)(486,6)(486,-3)(488,7)(488,-2)(490,8)(490,-2)(492,9)(492,-1)(494,10)(494,0)(496,11)(496,0)(498,10)(498,1)
(500,9)(500,1)(502,10)(502,0)(504,11)(504,0)(506,12)(506,1)(508,13)(508,1)(510,14)(510,2)(512,12)(512,2)(514,11)(514,2)(516,10)(516,1)(518,8)(518,-1)
(520,6)(520,-2)(522,5)(522,-3)(524,4)(524,-4)(526,4)(526,-5)(528,3)(528,-5)(530,2)(530,-6)(532,3)(532,-6)(534,2)(534,-5)(536,3)(536,-6)(538,2)(538,-5)
(540,3)(540,-6)(542,2)(542,-6)(544,3)(544,-5)(546,2)(546,-6)(548,1)(548,-6)(550,2)(550,-7)(552,1)(552,-7)(554,0)(554,-8)(556,0)(556,-9)(558,-1)(558,-10)
(560,-1)(560,-11)(562,-2)(562,-12)(564,-2)(564,-11)(566,-3)(566,-10)(568,-1)(568,-9)(570,1)(570,-8)(572,3)(572,-7)(574,6)(574,-5)(576,9)(576,-4)(578,13)(578,-3)
(580,15)(580,-2)(582,16)(582,-1)(584,14)(584,0)(586,12)(586,1)(588,11)(588,1)(590,10)(590,0)(592,9)(592,-1)(594,8)(594,-2)(596,6)(596,-4)(598,3)(598,-6)
(600,-2)(600,-9)(602,-3)(602,-10)(604,-2)(604,-11)(606,-3)(606,-12)(608,-4)(608,-14)(610,-6)(610,-16)(612,-8)(612,-20)(614,-9)(614,-23)(616,-10)(616,-25)(618,-11)(618,-21)
(620,-10)(620,-20)(622,-9)(622,-19)(624,-10)(624,-18)(626,-9)(626,-18)(628,-7)(628,-17)(630,-6)(630,-16)(632,-5)(632,-15)(634,-5)(634,-14)(636,-4)(636,-12)(638,-2)(638,-11)
(640,-3)(640,-12)(642,-5)(642,-14)(644,-6)(644,-16)(646,-8)(646,-18)(648,-10)(648,-21)(650,-12)(650,-23)(652,-14)(652,-25)(654,-16)(654,-26)(656,-18)(656,-28)(658,-20)(658,-29)
(660,-22)(660,-30)(662,-24)(662,-31)(664,-26)(664,-31)(666,-29)(666,-31)(668,-29)(668,-31)(670,-30)(670,-32)(672,-29)(672,-31)(674,-30)(674,-32)(676,-29)(676,-31)(678,-30)(678,-32)
(680,-29)(680,-31)(682,-30)(682,-32)(684,-29)(684,-31)(686,-28)(686,-31)(688,-25)(688,-31)(690,-22)(690,-31)(692,-20)(692,-30)(694,-19)(694,-29)(696,-17)(696,-28)(698,-15)(698,-27)
(700,-13)(700,-26)(702,-11)(702,-24)(704,-10)(704,-23)(706,-8)(706,-22)(708,-7)(708,-21)(710,-6)(710,-20)(712,-7)(712,-22)(714,-6)(714,-21)(716,-8)(716,-23)(718,-7)(718,-22)
(720,-9)(720,-24)(722,-10)(722,-25)(724,-12)(724,-26)(726,-14)(726,-26)(728,-16)(728,-28)(730,-17)(730,-29)(732,-19)(732,-31)(734,-21)(734,-33)(736,-22)(736,-35)(738,-24)(738,-37)
(740,-26)(740,-38)(742,-27)(742,-36)(744,-25)(744,-34)(746,-23)(746,-33)(748,-20)(748,-31)(750,-18)(750,-30)(752,-16)(752,-28)(754,-15)(754,-27)(756,-13)(756,-26)(758,-11)(758,-24)
(760,-9)(760,-23)(762,-5)(762,-21)(764,-7)(764,-22)(766,-9)(766,-22)(768,-10)(768,-23)(770,-12)(770,-24)(772,-13)(772,-24)(774,-11)(774,-22)(776,-9)(776,-20)(778,-7)(778,-19)
(780,-5)(780,-17)(782,-2)(782,-15)(784,0)(784,-14)(786,2)(786,-12)(788,3)(788,-11)(790,4)(790,-9)(792,5)(792,-7)(794,6)(794,-6)(796,6)(796,-4)(798,6)(798,-3)
(800,6)(800,-2)(802,6)(802,-1)(804,5)(804,-3)(806,4)(806,-5)(808,3)(808,-7)(810,2)(810,-9)(812,0)(812,-12)(814,-1)(814,-15)(816,-2)(816,-20)(818,-3)(818,-25)
(820,-4)(820,-22)(822,-5)(822,-18)(824,-6)(824,-16)(826,-5)(826,-15)(828,-3)(828,-14)(830,-1)(830,-13)(832,0)(832,-12)(834,2)(834,-12)(836,1)(836,-11)(838,0)(838,-10)
(840,-1)(840,-10)(842,0)(842,-11)(844,-1)(844,-10)(846,0)(846,-11)(848,1)(848,-12)(850,0)(850,-11)(852,-1)(852,-10)(854,0)(854,-11)(856,-1)(856,-10)(858,1)(858,-9)
(860,2)(860,-8)(862,3)(862,-7)(864,3)(864,-6)(866,3)(866,-6)(868,4)(868,-5)(870,3)(870,-5)(872,2)(872,-6)(874,2)(874,-7)(876,1)(876,-8)(878,0)(878,-9)
(880,-1)(880,-9)(882,-2)(882,-9)(884,-3)(884,-9)(886,-4)(886,-9)(888,-4)(888,-8)(890,-3)(890,-8)(892,-3)(892,-8)(894,-3)(894,-7)(896,-3)(896,-7)(898,-3)(898,-7)
(900,-3)(900,-6)(902,-3)(902,-6)(904,-3)(904,-6)(906,-3)(906,-5)(908,-2)(908,-5)(910,-3)(910,-5)(912,-3)(912,-5)(914,-2)(914,-5)(916,-1)(916,-4)(918,0)(918,-4)
(920,1)(920,-4)(922,5)(922,-2)(924,10)(924,2)(926,15)(926,8)(928,18)(928,12)(930,18)(930,17)
};
\addplot[orcirc] coordinates {
(1,-4)(3,-5)(5,-6)(7,-6)(9,-8)(11,-6)(13,-5)(15,-3)(17,-2)(19,-2)(21,-3)(23,-4)(25,-3)(27,-4)(29,-3)(31,-4)(33,-3)(35,-4)(37,-4)(39,-5)
(41,-5)(43,-7)(45,-10)(47,-12)(49,-13)(51,-15)(53,-16)(55,-15)(57,-15)(59,-14)(61,-15)(63,-14)(65,-15)(67,-15)(69,-16)(71,-16)(73,-17)(75,-18)(77,-19)(79,-20)
(81,-21)(83,-23)(85,-25)(87,-27)(89,-29)(95,-31)(105,-31)(115,-32)(125,-30)(135,-29)(145,-29)(147,-28)(149,-27)(151,-26)(153,-25)(155,-24)(157,-23)(159,-22)(161,-21)(163,-20)
(165,-19)(167,-18)(169,-17)(171,-17)(173,-16)(175,-16)(177,-16)(179,-15)(181,-14)(183,-13)(185,-12)(187,-10)(189,-10)(191,-11)(193,-11)(195,-12)(197,-13)(199,-14)(201,-15)(203,-15)
(205,-15)(207,-14)(209,-14)(211,-14)(213,-14)(215,-15)(217,-16)(219,-17)(221,-18)(223,-18)(225,-18)(227,-18)(229,-18)(231,-17)(233,-17)(235,-17)(237,-17)(239,-17)(241,-18)(243,-18)
(245,-17)(247,-18)(249,-18)(251,-18)(253,-18)(255,-19)(257,-20)(259,-21)(261,-22)(263,-22)(265,-21)(267,-20)(269,-19)(271,-17)(273,-14)(275,-12)(277,-11)(279,-10)(281,-10)(283,-10)
(285,-9)(287,-9)(289,-8)(291,-8)(293,-8)(295,-8)(297,-8)(299,-8)(301,-8)(303,-7)(305,-7)(307,-7)(309,-6)(311,-5)(313,-4)(315,-3)(317,-3)(319,-3)(321,-3)(323,-3)
(325,-3)(327,-3)(329,-4)(331,-5)(333,-5)(335,-6)(337,-6)(339,-7)(341,-7)(343,-6)(345,-5)(347,-3)(349,-1)(351,0)(353,2)(355,4)(357,6)(359,8)(361,10)(379,11)
(381,12)(383,12)(385,13)(387,14)(389,14)(391,14)(393,15)(395,15)(397,15)(399,16)(401,16)(403,15)(405,15)(407,14)(409,13)(411,11)(413,9)(415,7)(417,6)(419,5)
(421,4)(423,4)(425,4)(427,5)(429,5)(431,6)(433,7)(435,8)(437,9)(439,8)(441,7)(443,6)(445,5)(447,4)(449,3)(451,3)(453,3)(455,2)(457,2)(459,2)
(461,2)(463,1)(465,0)(467,0)(469,-1)(471,-2)(473,-3)(475,-3)(477,-2)(479,-1)(481,0)(483,0)(485,1)(487,2)(489,2)(491,3)(493,4)(495,5)(497,5)(499,5)
(501,5)(503,5)(505,5)(507,6)(509,7)(511,7)(513,7)(515,6)(517,4)(519,3)(521,2)(523,0)(525,0)(527,-1)(529,-1)(531,-1)(533,-1)(535,-1)(537,-1)(539,-1)
(541,-1)(543,-1)(545,-1)(547,-1)(549,-2)(551,-2)(553,-2)(555,-2)(557,-2)(559,-3)(561,-4)(563,-4)(565,-5)(567,-5)(569,-4)(571,-3)(573,-2)(575,-1)(577,1)(579,2)
(581,3)(583,4)(585,6)(587,6)(589,5)(591,4)(593,4)(595,2)(597,-1)(599,-5)(601,-6)(603,-6)(605,-6)(607,-8)(609,-9)(611,-11)(613,-13)(615,-14)(617,-15)(619,-15)
(621,-15)(623,-15)(625,-15)(627,-14)(629,-13)(631,-11)(633,-10)(635,-9)(637,-8)(639,-7)(641,-9)(643,-10)(645,-12)(647,-14)(649,-16)(651,-18)(653,-20)(655,-22)(657,-23)(659,-25)
(661,-26)(663,-28)(665,-30)(687,-30)(689,-28)(691,-27)(693,-26)(695,-24)(697,-23)(699,-21)(701,-20)(703,-18)(705,-17)(707,-16)(709,-16)(711,-16)(713,-15)(715,-15)(717,-15)(719,-15)
(721,-14)(723,-15)(725,-16)(727,-18)(729,-20)(731,-21)(733,-23)(735,-24)(737,-26)(739,-28)(741,-29)(743,-29)(745,-28)(747,-27)(749,-25)(751,-24)(753,-22)(755,-21)(757,-20)(759,-18)
(761,-17)(763,-16)(765,-17)(767,-17)(769,-17)(771,-18)(773,-17)(775,-15)(777,-14)(779,-12)(781,-10)(783,-8)(785,-7)(787,-5)(789,-4)(791,-3)(793,-1)(795,0)(797,1)(799,2)
(801,3)(803,3)(805,2)(807,0)(809,-1)(811,-2)(813,-4)(815,-5)(817,-6)(819,-8)(821,-9)(823,-10)(825,-11)(827,-10)(829,-9)(831,-8)(833,-8)(835,-7)(837,-6)(839,-5)
(841,-6)(843,-6)(845,-6)(847,-6)(849,-6)(851,-6)(853,-6)(855,-6)(857,-6)(859,-5)(861,-4)(863,-3)(865,-3)(867,-2)(869,-2)(871,-2)(873,-3)(875,-3)(877,-4)(879,-5)
(881,-5)(883,-6)(885,-6)(887,-6)(889,-6)(921,-3)(923,3)(925,9)(927,14)(929,15)
};
\addplot[lgreen, line width=2.8pt, smooth] coordinates {
(0,-3.8)(7,-6.4)(9,-7.5)(13,-4.8)(18,-2)(24,-3.8)(37,-4)(42,-5.8)(46,-11)(53,-15.6)(64,-14.4)(73,-16.7)(82,-21.8)(90,-29.5)(103,-30.4)(117,-31.7)(126,-30.1)(139,-29.3)(146,-28.8)(156,-23.4)
(168,-17.2)(179,-15.4)(188,-10.2)(195,-11.6)(201,-15.2)(212,-13.9)(223,-18.4)(236,-17.2)(252,-18)(262,-22.1)(269,-19.3)(276,-11)(289,-8.5)(298,-7.9)(305,-7.4)(315,-3)(325,-2.8)(341,-7.4)(347,-3.5)(354,3.4)
(362,10.7)(378,10.8)(388,13.8)(400,15.8)(407,14.7)(415,7)(421,3.4)(431,5.5)(437,8.6)(450,2.9)(460,1.9)(474,-2.9)(488,1.9)(497,5.3)(502,4.6)(513,7.3)(523,0.2)(533,-1.2)(546,-1.2)(556,-2)
(567,-5.4)(586,6)(594,3.4)(600,-5.9)(605,-6)(616,-15.2)(625,-14.7)(639,-6.9)(652,-19.3)(666,-30.1)(686,-30.4)(705,-16.7)(722,-14.1)(742,-30.1)(762,-16.2)(772,-17.7)(788,-4.3)(802,3.6)(824,-11)(839,-5.4)
(857,-6.4)(870,-1.8)(885,-6.4)(912,-3.8)(921,-2.8)(927,14.7)(930,15)
};
\end{axis}
\end{tikzpicture}
\end{document}
